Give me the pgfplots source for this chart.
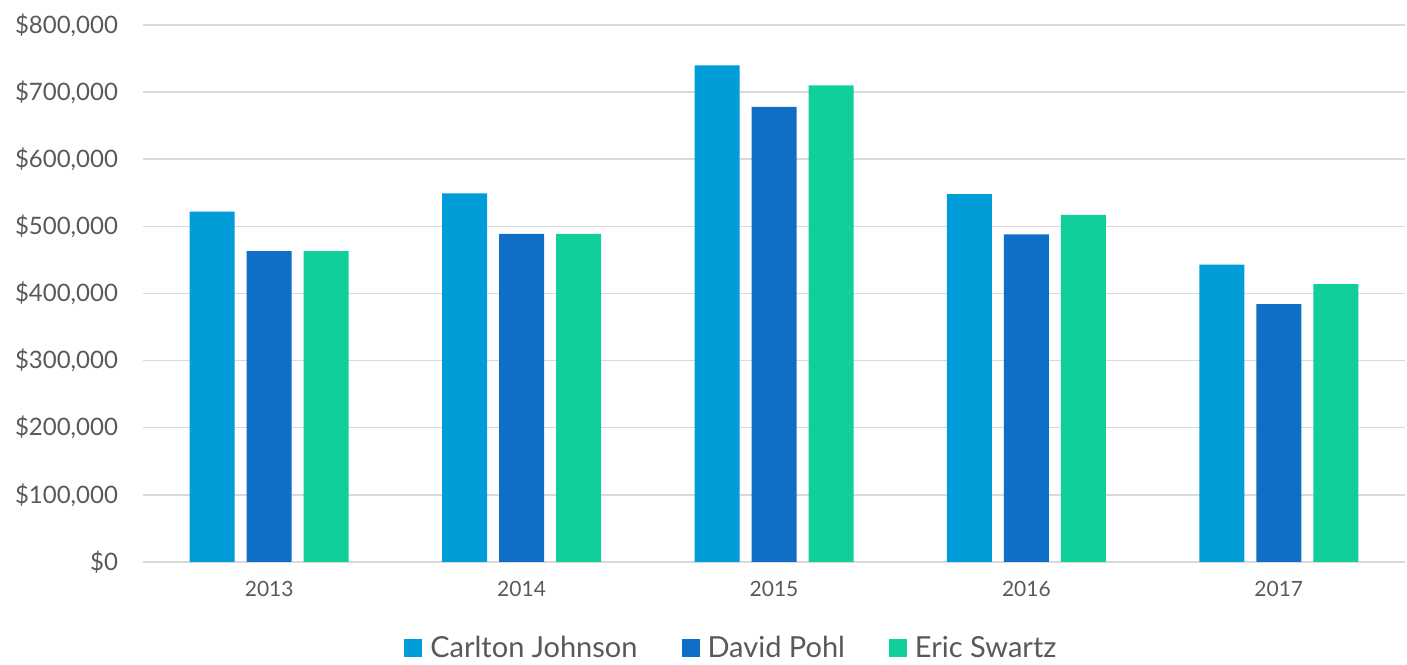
\documentclass[border=0pt]{standalone}
\usepackage{pgfplots}
\pgfplotsset{compat=1.18}
\usepackage{fontspec}
\setmainfont{Lato}
\definecolor{cj}{HTML}{009DD9}
\definecolor{dp}{HTML}{0F6FC6}
\definecolor{es}{HTML}{10CF9B}
\definecolor{gridc}{HTML}{D9D9D9}
\definecolor{txt}{HTML}{595959}
\begin{document}
\begin{tikzpicture}
\useasboundingbox (-71.5bp,-51.5bp) rectangle (632bp,281bp);
\begin{axis}[
  at={(0,0)}, anchor=south west,
  scale only axis,
  width=631bp, height=268.5bp,
  ybar=6bp, bar width=22.5bp,
  xmin=-0.5, xmax=4.5,
  ymin=0, ymax=800000,
  scaled y ticks=false,
  xtick={0,1,2,3,4},
  xticklabels={2013,2014,2015,2016,2017},
  ytick={0,100000,200000,300000,400000,500000,600000,700000,800000},
  yticklabels={\$0,\$100{,}000,\$200{,}000,\$300{,}000,\$400{,}000,\$500{,}000,\$600{,}000,\$700{,}000,\$800{,}000},
  /pgf/number format/assume math mode=true,
  ymajorgrids=true, xmajorgrids=false,
  grid style={draw=gridc, line width=0.75bp},
  tick style={draw=none},
  major tick length=0pt,
  axis line style={draw=none},
  axis x line*=bottom,
  x axis line style={draw=gridc, line width=0.75bp, -},
  axis y line*=left,
  y axis line style={draw=none},
  xticklabel style={font=\fontsize{10.5bp}{12bp}\selectfont, text=txt, yshift=-6bp},
  yticklabel style={font=\fontsize{12bp}{14bp}\selectfont, text=txt, xshift=-9bp, anchor=east},
  legend style={
    at={(0.467,-0.16)}, anchor=center,
    draw=none, fill=none,
    legend columns=3,
    font=\fontsize{14.5bp}{16bp}\selectfont,
    text=txt,
    /tikz/every even column/.append style={column sep=20bp},
    /tikz/every odd column/.append style={column sep=2bp},
  },
  legend cell align=left,
  legend image code/.code={\fill[#1] (0bp,-4.5bp) rectangle (9bp,4.5bp);},
]
\addplot[fill=cj, draw=none] coordinates {(0,522000) (1,549000) (2,740000) (3,548000) (4,443000)};
\addplot[fill=dp, draw=none] coordinates {(0,463000) (1,489000) (2,678000) (3,488000) (4,384000)};
\addplot[fill=es, draw=none] coordinates {(0,463000) (1,489000) (2,710000) (3,517000) (4,414000)};
\legend{Carlton Johnson, David Pohl, Eric Swartz}
\end{axis}
\end{tikzpicture}
\end{document}
